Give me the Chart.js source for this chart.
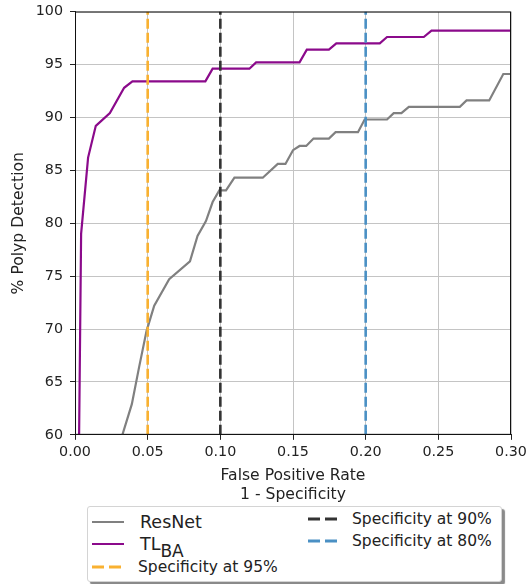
<!DOCTYPE html>
<html>
<head>
<meta charset="utf-8">
<script src="https://cdn.jsdelivr.net/npm/chart.js"></script>
<style>
  body { margin: 0; background: #fff; font-family: "DejaVu Sans", sans-serif; color: #222; }
  #wrap { position: relative; width: 526px; height: 584px; overflow: hidden; }
  #chart { position: absolute; left: 0; top: -4px; }
  .legend {
    position: absolute; left: 87px; top: 506px; width: 413px; height: 74px;
    border: 1px solid #d4d4d4; border-radius: 3px; background: #fff;
    box-shadow: 3px 3px 1px #8a8a8a;
  }
  .item { position: absolute; font-size: 15.5px; line-height: 18px; white-space: nowrap; }
  .swatch { position: absolute; width: 32px; height: 4px; }
  sub { font-size: 17px; vertical-align: -7px; line-height: 0; }
</style>
</head>
<body>
<div id="wrap">
  <canvas id="chart" width="540" height="509"></canvas>
  <div class="legend" id="legend"></div>
</div>
<script>
// ROC curves (false positive rate, % detection)
const resnetFpr = [0.028, 0.0326, 0.0391, 0.0441, 0.0492, 0.0545, 0.0648, 0.0791, 0.0843, 0.0901,
  0.0947, 0.0993, 0.1039, 0.1097, 0.1292, 0.1395, 0.1448, 0.1500, 0.1545, 0.1591, 0.1641, 0.1747,
  0.1793, 0.1947, 0.1993, 0.2147, 0.2193, 0.2246, 0.2297, 0.2648, 0.2694, 0.2850, 0.2947, 0.3000];
const resnetTpr = [58.0, 60.0, 62.9, 66.4, 69.8, 72.2, 74.7, 76.4, 78.8, 80.2,
  82.0, 83.1, 83.1, 84.3, 84.3, 85.6, 85.6, 86.9, 87.3, 87.3, 88.0, 88.0,
  88.6, 88.6, 89.8, 89.8, 90.4, 90.4, 91.0, 91.0, 91.6, 91.6, 94.1, 94.1];

const tlFpr = [0.0026, 0.0042, 0.0090, 0.0143, 0.0240, 0.0338, 0.0395, 0.0897, 0.0947, 0.1200,
  0.1246, 0.1545, 0.1595, 0.1747, 0.1798, 0.2097, 0.2147, 0.2400, 0.2453, 0.3000];
const tlTpr = [57.0, 79.0, 86.2, 89.2, 90.4, 92.8, 93.4, 93.4, 94.6, 94.6,
  95.2, 95.2, 96.4, 96.4, 97.0, 97.0, 97.6, 97.6, 98.2, 98.2];

// vertical reference lines
const specLabels = ['Specificity at 95%', 'Specificity at 90%', 'Specificity at 80%'];
const specFpr = [0.05, 0.10, 0.20];
const specColors = ['#f9b131', '#333333', '#4a90c4'];

const xMin = 0, xMax = 0.3, xStep = 0.05;
const yMin = 60, yMax = 100, yStep = 5;

const resnetColor = '#808080', tlColor = '#8b0a8b';

const toPoints = (xs, ys) => xs.map((x, i) => ({ x: x, y: ys[i] }));

Chart.defaults.font.family = '"DejaVu Sans", sans-serif';
Chart.defaults.font.size = 14.3;
Chart.defaults.color = '#222';

const datasets = [
  { label: 'ResNet', data: toPoints(resnetFpr, resnetTpr), borderColor: resnetColor, borderWidth: 2.2, order: 5 },
  { label: 'TLBA', data: toPoints(tlFpr, tlTpr), borderColor: tlColor, borderWidth: 2.2, order: 4 }
];
specFpr.forEach((f, i) => {
  datasets.push({
    label: specLabels[i],
    data: [{ x: f, y: yMin }, { x: f, y: yMax }],
    borderColor: specColors[i], borderWidth: 2.6, borderDash: [10, 4], order: 3 - i
  });
});
datasets.forEach(d => { d.showLine = true; d.pointRadius = 0; d.tension = 0; d.fill = false; });

// matplotlib style box around the plot
const frame = {
  id: 'frame',
  afterDraw(chart) {
    const a = chart.chartArea, ctx = chart.ctx;
    ctx.save();
    ctx.strokeStyle = '#111';
    ctx.lineWidth = 1;
    ctx.strokeRect(a.left + 0.5, a.top + 0.5, a.right - a.left - 1, a.bottom - a.top - 1);
    ctx.restore();
  }
};

new Chart(document.getElementById('chart'), {
  type: 'scatter',
  data: { datasets: datasets },
  plugins: [frame],
  options: {
    responsive: false,
    animation: false,
    layout: { padding: { left: 6, right: 29, top: 1, bottom: 0 } },
    plugins: { legend: { display: false }, tooltip: { enabled: false } },
    scales: {
      x: {
        type: 'linear', min: xMin, max: xMax,
        ticks: { stepSize: xStep, padding: 4, callback: v => v.toFixed(2) },
        grid: { color: '#c4c4c4', tickColor: '#222', tickLength: 5 },
        border: { color: '#222' },
        title: { display: true, text: ['False Positive Rate', '1 - Specificity'], padding: { top: 1, bottom: 0 }, font: { size: 15.6, lineHeight: 1.25 } }
      },
      y: {
        type: 'linear', min: yMin, max: yMax,
        ticks: { stepSize: yStep, padding: 7 },
        grid: { color: '#c4c4c4', tickColor: '#222', tickLength: 5 },
        border: { color: '#222' },
        title: { display: true, text: '% Polyp Detection', padding: { top: 4, bottom: 0 }, font: { size: 15.6 } }
      }
    }
  }
});

// legend with subscript, laid out like the matplotlib one (two columns)
const legendEl = document.getElementById('legend');
const legendItems = [
  { html: 'ResNet', color: resnetColor, dash: false, col: 0, row: 0, big: true },
  { html: 'TL<sub>BA</sub>', color: tlColor, dash: false, col: 0, row: 1, big: true },
  { html: specLabels[0], color: specColors[0], dash: true, col: 0, row: 2 },
  { html: specLabels[1], color: specColors[1], dash: true, col: 1, row: 0 },
  { html: specLabels[2], color: specColors[2], dash: true, col: 1, row: 1 }
];
const colX = [4, 220], rowY = [15, 37, 60];
legendItems.forEach(it => {
  const y = rowY[it.row] - (it.col === 1 ? 3 : 0);
  const sw = document.createElementNS('http://www.w3.org/2000/svg', 'svg');
  sw.setAttribute('class', 'swatch');
  sw.setAttribute('width', 32);
  sw.setAttribute('height', 4);
  sw.style.left = colX[it.col] + 'px';
  sw.style.top = (y - 2) + 'px';
  const ln = document.createElementNS('http://www.w3.org/2000/svg', 'line');
  ln.setAttribute('x1', 0); ln.setAttribute('x2', 32);
  ln.setAttribute('y1', 2); ln.setAttribute('y2', 2);
  ln.setAttribute('stroke', it.color);
  ln.setAttribute('stroke-width', it.dash ? 3 : 2);
  if (it.dash) ln.setAttribute('stroke-dasharray', '12 5');
  sw.appendChild(ln);
  legendEl.appendChild(sw);
  const tx = document.createElement('div');
  tx.className = 'item';
  tx.innerHTML = it.html;
  if (it.big) tx.style.fontSize = '17.5px';
  tx.style.left = (colX[it.col] + (it.col === 0 ? 48 : 46) - (it.big ? 0 : 2)) + 'px';
  tx.style.top = (y - 9) + 'px';
  legendEl.appendChild(tx);
});
</script>
</body>
</html>
